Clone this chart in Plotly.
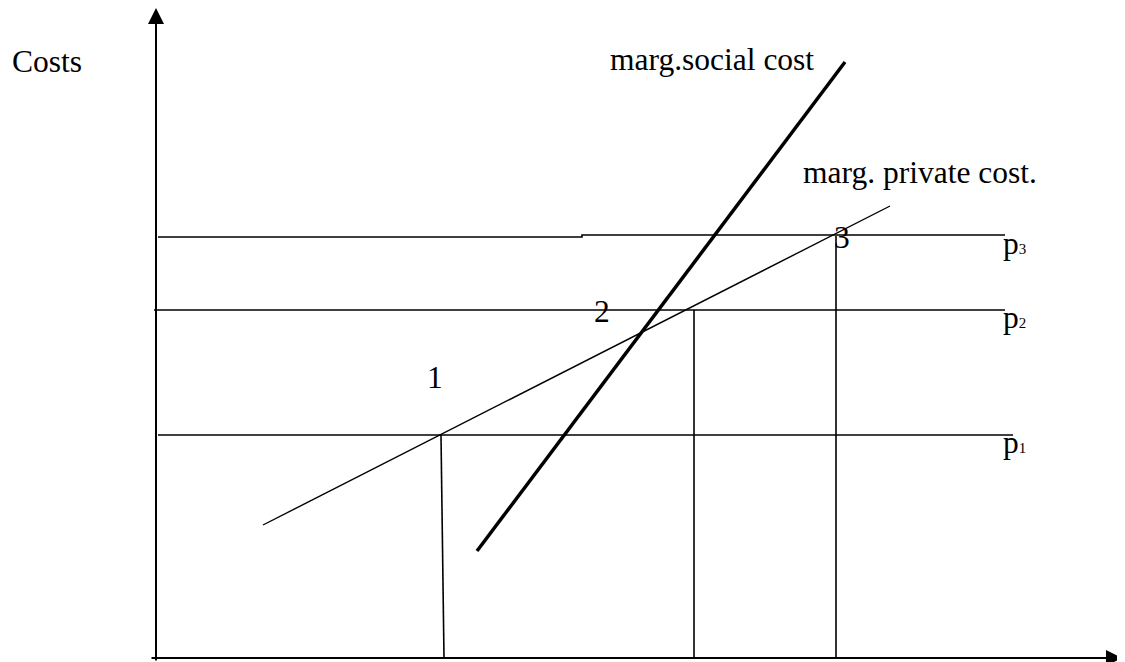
import plotly.graph_objects as go

# Price levels p1, p2, p3 (cost axis)
price_names = ["p1", "p2", "p3"]
price_levels = [223, 348, 422]
price_start = [2, -2, 2]
price_end = [857, 849, 849]

# Quantities where marginal private cost meets each price
quantities = [285, 538, 680]
quantity_top = [223, 348, 422]

# Marginal private cost (thin line) end points
private_q = [107, 734]
private_cost = [133, 452]

# Marginal social cost (thick line) end points
social_q = [321, 689]
social_cost = [107, 596]

FONT = "Liberation Serif"
SIZE = 31.5
BLACK = "#000000"

fig = go.Figure()


def add_line(x, y, width):
    fig.add_trace(go.Scatter(
        x=x, y=y, mode="lines",
        line=dict(color=BLACK, width=width),
        hoverinfo="skip", showlegend=False,
    ))


# horizontal price lines (p3 has a small step half way, as in the drawing)
for name, p, x0, x1 in zip(price_names, price_levels, price_start, price_end):
    if name == "p3":
        add_line([x0, 426, 426, x1], [p - 1, p - 1, p + 1, p + 1], 1.6)
    else:
        add_line([x0, x1], [p, p], 1.6)

# vertical drop lines to the quantity axis
for i, (q, top) in enumerate(zip(quantities, quantity_top)):
    bottom_q = q + 3 if i == 0 else q
    add_line([q, bottom_q], [top, 0], 1.6)

# cost curves
add_line(private_q, private_cost, 1.4)
add_line(social_q, social_cost, 3.5)

# axes with arrow heads
for x, y, ax, ay in [(0, 650, 0, -4), (966, 0, -6, 0)]:
    fig.add_annotation(
        x=x, y=y, ax=ax, ay=ay,
        xref="x", yref="y", axref="x", ayref="y",
        showarrow=True, arrowhead=2, arrowsize=1.6, arrowwidth=2,
        arrowcolor=BLACK, standoff=0, text="",
    )


def add_text(x, y, text, anchor="left"):
    fig.add_annotation(
        x=x, y=y, text=text, showarrow=False,
        xref="x", yref="y", xanchor=anchor, yanchor="middle",
        font=dict(family=FONT, size=SIZE, color=BLACK),
    )


add_text(-146, 597, "Costs")
add_text(452, 599, "marg.social cost")
add_text(645, 486, "marg. private cost.")

# intersection numbers
for label, q, p, dx in zip(["1", "2", "3"], quantities, price_levels, [-6, -92, 6]):
    add_text(q + dx, p + 58 if label == "1" else p - 1, label, anchor="center")

# price labels at the right end of each line
for name, p in zip(price_names, price_levels):
    add_text(845, p - 7, f"p<span style='font-size:15px'>{name[1]}</span>")

# the page body adds an 8px margin, so the figure is 8px smaller each way
fig.update_layout(
    width=1117, height=654,
    margin=dict(l=0, r=0, t=0, b=0),
    plot_bgcolor="white", paper_bgcolor="white",
    xaxis=dict(range=[-148, 969], visible=False, fixedrange=True),
    yaxis=dict(range=[-4, 650], visible=False, fixedrange=True),
    showlegend=False,
)

fig.write_html("out.html")
